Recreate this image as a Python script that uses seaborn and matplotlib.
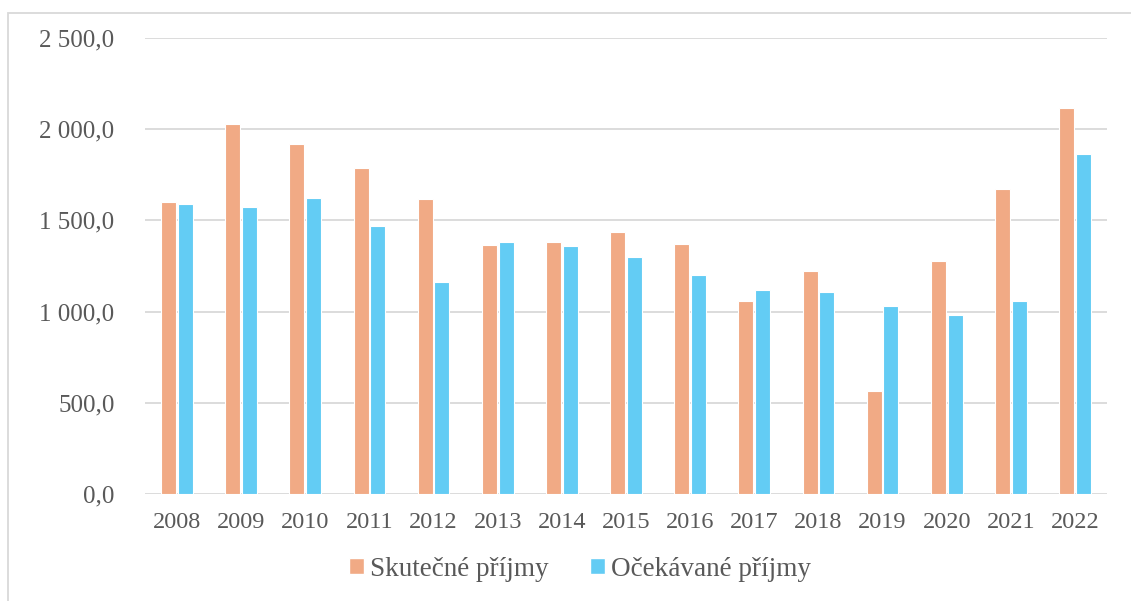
import matplotlib
matplotlib.use("Agg")
import matplotlib.pyplot as plt
import seaborn as sns
import pandas as pd
from matplotlib.patches import Patch, Rectangle
from matplotlib.ticker import FuncFormatter, MultipleLocator

years = ["2008", "2009", "2010", "2011", "2012", "2013", "2014", "2015",
         "2016", "2017", "2018", "2019", "2020", "2021", "2022"]
skutecne = [1599, 2030, 1918, 1789, 1619, 1367, 1382, 1438,
            1369, 1059, 1223, 566, 1278, 1674, 2117]
ocekavane = [1592, 1572, 1621, 1471, 1161, 1382, 1360, 1300,
             1201, 1117, 1110, 1033, 980, 1060, 1864]
series_names = ["Skutečné příjmy", "Očekávané příjmy"]
colors = ["#F1AA85", "#63CCF4"]

df = pd.DataFrame({
    "year": years * 2,
    "value": skutecne + ocekavane,
    "series": [series_names[0]] * len(years) + [series_names[1]] * len(years),
})

sns.set_theme(style="white")
plt.rcParams["font.family"] = ["Liberation Serif", "DejaVu Serif"]

fig = plt.figure(figsize=(11.31, 6.01), dpi=100)
ax = fig.add_axes([145 / 1131, 1 - 494 / 601, (1107 - 145) / 1131, (494 - 38) / 601])

sns.barplot(data=df, x="year", y="value", hue="series", palette=colors,
            saturation=1, width=0.52, gap=0.1, edgecolor="white", linewidth=0.8,
            legend=False, ax=ax, zorder=3)

ax.set_ylim(0, 2500)
ax.yaxis.set_major_locator(MultipleLocator(500))


def fmt(v, pos):
    s = f"{v:,.1f}"
    return s.replace(",", " ").replace(".", ",")


ax.yaxis.set_major_formatter(FuncFormatter(fmt))
ax.grid(axis="y", color="#D9D9D9", linewidth=1.3, zorder=0)
ax.grid(axis="x", visible=False)
for s in ax.spines.values():
    s.set_visible(False)
ax.set_xlabel("")
ax.set_ylabel("")
ax.tick_params(axis="y", length=0, pad=22, labelsize=18, labelcolor="#595959")
ax.tick_params(axis="x", length=0, pad=13, labelsize=17.5, labelcolor="#595959")
for lbl in ax.get_yticklabels():
    lbl.set_clip_on(False)

handles = [Patch(facecolor=c, edgecolor="white", label=n) for c, n in zip(colors, series_names)]
fig.legend(handles=handles, loc="center", bbox_to_anchor=(580 / 1131, 1 - 569 / 601),
           ncol=2, frameon=False, fontsize=19.5, handlelength=0.55, handleheight=0.55,
           handletextpad=0.25, columnspacing=1.5, labelcolor="#595959")

fig.patches.append(Rectangle((8 / 1131, -0.1), 1.2, 1.1 - 13 / 601, transform=fig.transFigure,
                             fill=False, edgecolor="#D9D9D9", linewidth=1.3))

fig.savefig("out.png", dpi=100)
